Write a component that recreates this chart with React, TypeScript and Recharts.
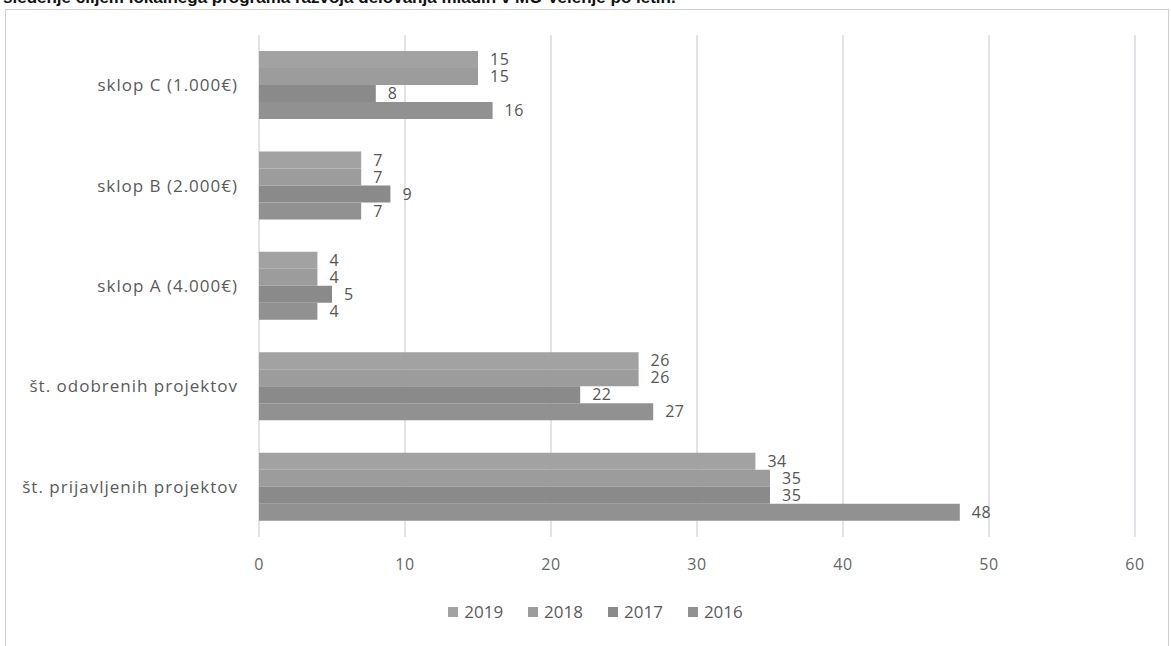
import React from 'react';
import { BarChart, Bar, XAxis, YAxis, CartesianGrid, Legend, LabelList } from 'recharts';

const categories = [
    'sklop C (1.000€)',
    'sklop B (2.000€)',
    'sklop A (4.000€)',
    'št. odobrenih projektov',
    'št. prijavljenih projektov',
];

const years = ['2019', '2018', '2017', '2016'];

const values2019 = [15, 7, 4, 26, 34];
const values2018 = [15, 7, 4, 26, 35];
const values2017 = [8, 9, 5, 22, 35];
const values2016 = [16, 7, 4, 27, 48];

const xTicks = [0, 10, 20, 30, 40, 50, 60];

const COLORS = ['#a2a2a2', '#9c9c9c', '#8a8a8a', '#919191'];

const chartData = categories.map((name, i) => ({
    name,
    '2019': values2019[i],
    '2018': values2018[i],
    '2017': values2017[i],
    '2016': values2016[i],
}));

const FONT = '"Open Sans", sans-serif';

// legend in the original series order (recharts flips it for vertical layout)
const renderLegend = () => (
    <div style={{ display: 'flex', justifyContent: 'center', gap: 25, paddingLeft: 20, fontFamily: FONT, fontSize: 17, color: '#5a5a5a' }}>
        {years.map((year, i) => (
            <span key={year} style={{ display: 'inline-flex', alignItems: 'center' }}>
                <span style={{ display: 'inline-block', width: 10, height: 10, background: COLORS[i], marginRight: 6 }} />
                {year}
            </span>
        ))}
    </div>
);

const App: React.FC = () => {
    return (
        <div style={{ position: 'fixed', left: 0, top: 0, width: 1171, height: 646, overflow: 'hidden', background: '#fff' }}>
            {/* heading line cut off by the scan */}
            <div style={{
                position: 'absolute', left: 3, top: -12, whiteSpace: 'nowrap',
                fontFamily: '"Liberation Sans", Arial, sans-serif', fontWeight: 'bold', fontSize: 17, color: '#111',
            }}>
                sledenje ciljem lokalnega programa razvoja delovanja mladih v MO Velenje po letih.
            </div>
            <div style={{ position: 'absolute', left: 5, top: 9, width: 1162, height: 700, border: '1px solid #cfcfcf' }} />
            <div style={{ position: 'absolute', left: 0, top: 0 }}>
                <BarChart
                    width={1171}
                    height={646}
                    data={chartData}
                    layout="vertical"
                    margin={{ top: 35, right: 36, left: 0, bottom: 69 }}
                    barCategoryGap="16%"
                    barGap={0}
                >
                    <CartesianGrid horizontal={false} stroke="#c4c8d2" />
                    <XAxis
                        type="number"
                        domain={[0, 60]}
                        ticks={xTicks}
                        axisLine={false}
                        tickLine={false}
                        height={40}
                        tickSize={6}
                        tickMargin={16}
                        tick={{ fill: '#666', fontSize: 16, fontFamily: FONT, letterSpacing: 0.5 }}
                    />
                    <YAxis
                        type="category"
                        dataKey="name"
                        width={259}
                        axisLine={false}
                        tickLine={false}
                        tickSize={6}
                        tickMargin={15}
                        tick={{ fill: '#5a5a5a', fontSize: 17, fontFamily: FONT, letterSpacing: 1 }}
                    />
                    <Legend
                        verticalAlign="middle"
                        align="center"
                        layout="horizontal"
                        wrapperStyle={{ top: 600, left: 0, width: 1171 }}
                        content={renderLegend}
                    />
                    {years.map((year, i) => (
                        <Bar key={year} dataKey={year} name={year} fill={COLORS[i]} isAnimationActive={false}>
                            <LabelList
                                dataKey={year}
                                position="right"
                                offset={12}
                                fill="#555"
                                fontSize={16}
                                fontFamily={FONT}
                                style={{ letterSpacing: 0.5 }}
                            />
                        </Bar>
                    ))}
                </BarChart>
            </div>
        </div>
    );
};

export default App;
